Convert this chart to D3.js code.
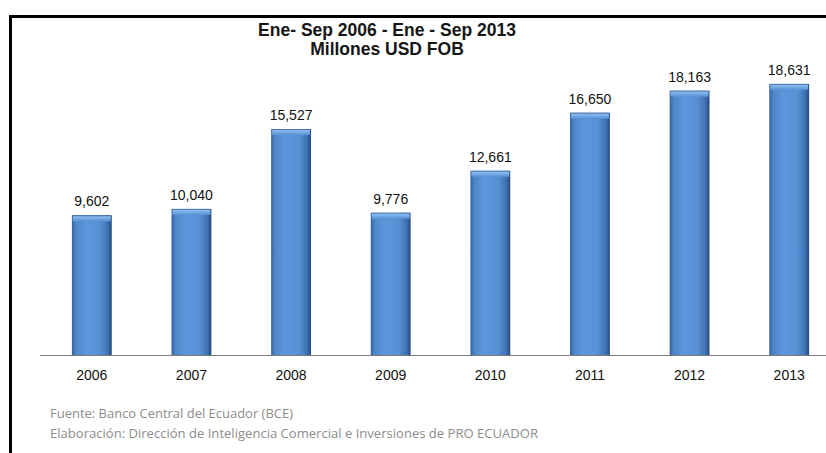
<!DOCTYPE html>
<html>
<head>
<meta charset="utf-8">
<script src="https://cdn.jsdelivr.net/npm/d3@7"></script>
<style>
  html, body { margin: 0; padding: 0; background: #fff; }
  svg { display: block; }
</style>
</head>
<body>
<svg id="chart" width="826" height="453"></svg>
<script>
(function () {
    'use strict';

    // data
    const years = ["2006", "2007", "2008", "2009", "2010", "2011", "2012", "2013"];
    const values = [9602, 10040, 15527, 9776, 12661, 16650, 18163, 18631];
    const titleLines = ["Ene- Sep 2006 - Ene - Sep 2013", "Millones USD FOB"];
    const notes = [
        "Fuente: Banco Central del Ecuador (BCE)",
        "Elaboración: Dirección de Inteligencia Comercial e Inversiones de PRO ECUADOR"
    ];

    const width = 826;
    const height = 453;
    const baseY = 355;

    const fmt = d3.format(",d");

    const svg = d3.select("#chart");

    const defs = svg.append("defs");
    const grad = defs.append("linearGradient")
        .attr("id", "barGrad")
        .attr("x1", "0").attr("x2", "1").attr("y1", "0").attr("y2", "0");
    [[0, "#34629f"], [0.1, "#4f86c9"], [0.35, "#5d97db"], [0.7, "#5890d4"], [0.9, "#3f72b4"], [1, "#24487a"]]
        .forEach(s => grad.append("stop").attr("offset", s[0]).attr("stop-color", s[1]));

    const capGrad = defs.append("linearGradient")
        .attr("id", "capGrad")
        .attr("x1", "0").attr("x2", "0").attr("y1", "0").attr("y2", "1");
    [[0, "#2e5890"], [0.25, "#8ab9ec"], [0.7, "#6aa2e0"], [1, "#5891d6"]]
        .forEach(s => capGrad.append("stop").attr("offset", s[0]).attr("stop-color", s[1]));

    const x = d3.scaleBand()
        .domain(years)
        .range([42, 839])
        .paddingInner(0.6)
        .paddingOuter(0.3);

    const y = d3.scaleLinear()
        .domain([0, 20000])
        .range([baseY, 64]);

    // frame
    svg.append("path")
        .attr("d", `M10.5,${height} V16.5 H${width}`)
        .attr("fill", "none")
        .attr("stroke", "#000")
        .attr("stroke-width", 3);

    // title
    svg.append("g")
        .selectAll("text")
        .data(titleLines)
        .join("text")
        .attr("x", 387)
        .attr("y", (d, i) => 35.5 + i * 19)
        .attr("text-anchor", "middle")
        .style("font", "bold 17.5px 'Liberation Sans', Arial, sans-serif")
        .attr("fill", "#151515")
        .text(d => d);

    // bars
    const bars = svg.append("g")
        .selectAll("g")
        .data(years.map((d, i) => ({year: d, value: values[i]})))
        .join("g");

    bars.append("rect")
        .attr("x", d => x(d.year))
        .attr("y", d => y(d.value))
        .attr("width", x.bandwidth())
        .attr("height", d => baseY - y(d.value))
        .attr("fill", "url(#barGrad)");

    bars.append("rect")
        .attr("x", d => x(d.year) + 1)
        .attr("y", d => y(d.value))
        .attr("width", x.bandwidth() - 2)
        .attr("height", 6)
        .attr("fill", "url(#capGrad)");

    bars.append("text")
        .attr("x", d => x(d.year) + x.bandwidth() / 2)
        .attr("y", d => y(d.value) - 9)
        .attr("text-anchor", "middle")
        .style("font", "14px 'Liberation Sans', Arial, sans-serif")
        .attr("fill", "#111")
        .text(d => fmt(d.value));

    // baseline and year labels
    const xAxis = svg.append("g")
        .attr("transform", `translate(0,${baseY})`)
        .call(d3.axisBottom(x).tickSize(0).tickPadding(0));
    xAxis.select(".domain").remove();
    xAxis.selectAll("text")
        .attr("dy", null)
        .attr("y", 25)
        .style("font", "14px 'Liberation Sans', Arial, sans-serif")
        .attr("fill", "#111");

    svg.append("line")
        .attr("x1", 40).attr("x2", width)
        .attr("y1", baseY + 0.5).attr("y2", baseY + 0.5)
        .attr("stroke", "#7a7a7a")
        .attr("stroke-width", 1);

    // source notes
    const noteWidths = [243, 488];
    svg.append("g")
        .selectAll("text")
        .data(notes)
        .join("text")
        .attr("x", 50)
        .attr("y", (d, i) => 418 + i * 20)
        .attr("textLength", (d, i) => noteWidths[i])
        .attr("lengthAdjust", "spacingAndGlyphs")
        .style("font", "13.5px 'Open Sans', 'Noto Sans', sans-serif")
        .attr("fill", "#8c8c8c")
        .text(d => d);
}());
</script>
</body>
</html>
